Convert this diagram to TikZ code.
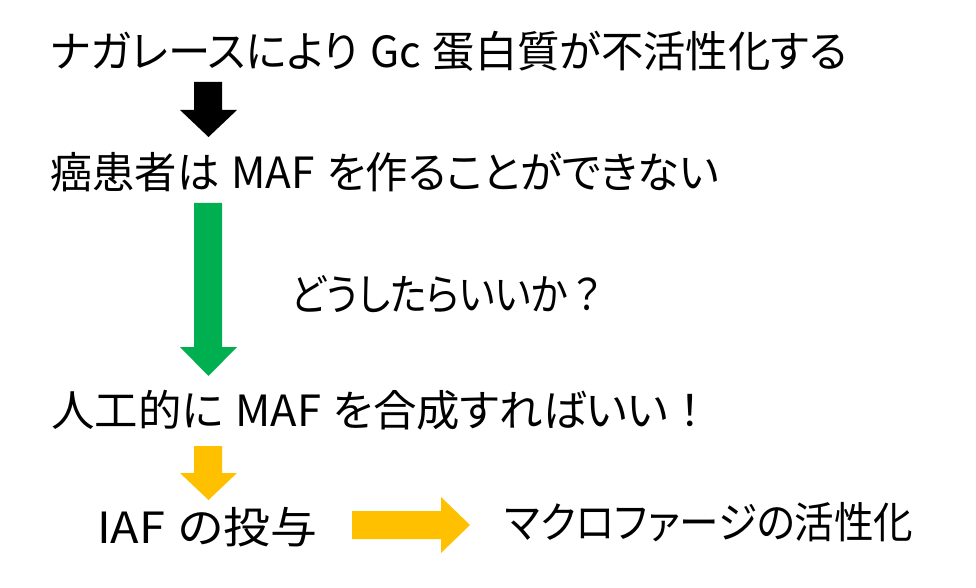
\documentclass[tikz,border=0pt]{standalone}
\usepackage{fontspec}
\newfontfamily\jpfont[RawFeature=+palt]{Noto Sans CJK JP}
\newfontfamily\jpfull{Noto Sans CJK JP}
\definecolor{agreen}{HTML}{00B050}
\definecolor{ayellow}{HTML}{FFC000}
\newcommand{\wsp}{\hspace{12bp}}
\newcommand{\fw}[1]{{\jpfull #1}}
\newcommand{\xs}[2]{\scalebox{#1}[1]{#2}}
\begin{document}
\begin{tikzpicture}[x=1bp,y=-1bp,
  txt/.style={anchor=west,inner sep=0pt,font=\jpfont\fontsize{43bp}{50bp}\selectfont}]
\useasboundingbox (0,0) rectangle (976,588);
\fill[white] (0,0) rectangle (976,588);
\node[txt] (l1) at (50,51) {\xs{0.985}{ナガレースにより\wsp Gc\wsp 蛋白質が不活性化する}};
\node[txt] (l2) at (50,172) {\xs{0.985}{癌患者は\wsp MAF\wsp を作ることができない}};
\node[txt] (l3) at (291,294) {\xs{0.885}{どうしたらいいか\fw{？}}};
\node[txt] (l4) at (51,410) {\xs{1.01}{人工的に\wsp MAF\wsp を合成すればいい\fw{！}}};
\node[txt] (l5) at (97,527) {\xs{1.09}{IAF\wsp の投与}};
\node[txt] (l6) at (505,522) {\xs{0.92}{マクロファージの活性化}};
% block arrows
\fill[black] (194,82) -- (222,82) -- (222,110) -- (237,110) -- (208.5,137) -- (180,110) -- (194,110) -- cycle;
\fill[agreen] (194,203) -- (222,203) -- (222,347) -- (237,347) -- (208.5,376) -- (180,347) -- (194,347) -- cycle;
\fill[ayellow] (194,446) -- (222,446) -- (222,473) -- (237,473) -- (208.5,500) -- (180,473) -- (194,473) -- cycle;
\fill[ayellow] (352,511) -- (441,511) -- (441,497) -- (470,525) -- (441,553) -- (441,539) -- (352,539) -- cycle;
\end{tikzpicture}
\end{document}
